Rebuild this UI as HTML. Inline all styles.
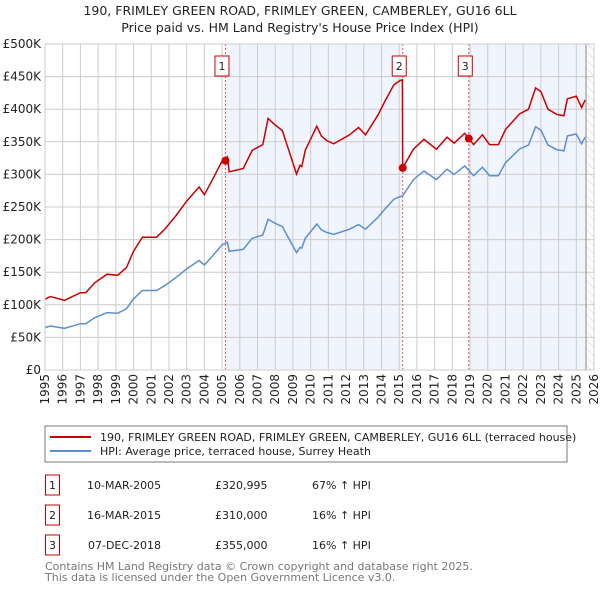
<!DOCTYPE html>
<html><head><meta charset="utf-8">
<style>
body{margin:0;background:#fff;font-family:"Liberation Sans","DejaVu Sans",sans-serif;}
svg text{font-family:"DejaVu Sans","Liberation Sans",sans-serif;}
</style></head>
<body>
<svg id="c" width="600" height="590" viewBox="0 0 600 590" xmlns="http://www.w3.org/2000/svg">
<text x="300" y="15" text-anchor="middle" font-size="12.5" fill="#222">190, FRIMLEY GREEN ROAD, FRIMLEY GREEN, CAMBERLEY, GU16 6LL</text>
<text x="300" y="32" text-anchor="middle" font-size="12.5" fill="#222">Price paid vs. HM Land Registry's House Price Index (HPI)</text>
<g id="plot"></g>
<rect x="45" y="426" width="522" height="36" fill="#fff" stroke="#777"/>
<line x1="50" y1="437" x2="91" y2="437" stroke="#cc0000" stroke-width="2"/>
<text x="100" y="441" font-size="11" fill="#222">190, FRIMLEY GREEN ROAD, FRIMLEY GREEN, CAMBERLEY, GU16 6LL (terraced house)</text>
<line x1="50" y1="451" x2="91" y2="451" stroke="#5b8fd0" stroke-width="2"/>
<text x="100" y="455" font-size="11" fill="#222">HPI: Average price, terraced house, Surrey Heath</text>
<g font-size="11" fill="#222">
<rect x="45.5" y="475" width="14" height="20" fill="none" stroke="#cc0000"/><text x="52.5" y="489" text-anchor="middle">1</text>
<text x="87" y="489">10-MAR-2005</text><text x="215" y="489">£320,995</text><text x="312" y="489">67% ↑ HPI</text>
<rect x="45.5" y="505" width="14" height="20" fill="none" stroke="#cc0000"/><text x="52.5" y="519" text-anchor="middle">2</text>
<text x="87" y="519">16-MAR-2015</text><text x="215" y="519">£310,000</text><text x="312" y="519">16% ↑ HPI</text>
<rect x="45.5" y="535" width="14" height="20" fill="none" stroke="#cc0000"/><text x="52.5" y="549" text-anchor="middle">3</text>
<text x="88" y="549">07-DEC-2018</text><text x="215" y="549">£355,000</text><text x="312" y="549">16% ↑ HPI</text>
</g>
<text x="45" y="570" font-size="11" fill="#777">Contains HM Land Registry data © Crown copyright and database right 2025.</text>
<text x="45" y="581" font-size="11" fill="#777">This data is licensed under the Open Government Licence v3.0.</text>
</svg>
<script>
const hpiYears=[1995.0,1995.3,1996.1,1997.0,1997.3,1997.8,1998.5,1999.1,1999.6,2000.0,2000.5,2001.3,2001.8,2002.4,2003.0,2003.7,2004.0,2004.5,2005.0,2005.3,2005.4,2006.2,2006.7,2007.3,2007.6,2008.0,2008.4,2008.8,2009.2,2009.4,2009.5,2009.7,2010.35,2010.6,2010.9,2011.3,2012.2,2012.7,2013.1,2013.8,2014.2,2014.7,2015.05,2015.2,2015.8,2016.4,2017.1,2017.7,2018.1,2018.7,2019.2,2019.7,2020.1,2020.6,2021.0,2021.8,2022.3,2022.7,2023.0,2023.4,2023.9,2024.3,2024.5,2025.0,2025.3,2025.5];
const hpiValues=[65,67.5,64,71,71,80,88,87,94,109,122,122,130,142,155,168,161,176,192,196,182,185,202,207,231,225,220,200,180,188,187,202,224,215,211,208,216,223,216,234,247,262,266,267,292,305,292,308,300,313,298,311,298,298,318,339,345,373,368,345,338,336,359,362,347,357];
const priceYears=[1995.0,1995.3,1996.1,1997.0,1997.3,1997.8,1998.5,1999.1,1999.6,2000.0,2000.5,2001.3,2001.8,2002.4,2003.0,2003.7,2004.0,2004.5,2005.0,2005.3,2005.4,2006.2,2006.7,2007.3,2007.6,2008.0,2008.4,2008.8,2009.2,2009.4,2009.5,2009.7,2010.35,2010.6,2010.9,2011.3,2012.2,2012.7,2013.1,2013.8,2014.2,2014.7,2015.05,2015.18,2015.2,2015.8,2016.4,2017.1,2017.7,2018.1,2018.7,2019.2,2019.7,2020.1,2020.6,2021.0,2021.8,2022.3,2022.7,2023.0,2023.4,2023.9,2024.3,2024.5,2025.0,2025.3,2025.5];
const priceValues=[108.5,112.7,106.9,118.6,118.6,133.6,147,145.3,157,182,203.7,203.7,217,237,259,280.6,268.9,294,320.6,327,304,309,337,345.7,385.8,375.8,367.4,334,300.6,314,312,337,374,359,352,347,360.7,372,360.7,390.8,412.5,437.5,444,445,310,338.7,353.8,338.7,357,348,363,345.7,360.8,345.7,345.7,368.9,393,400,432.7,427,400,392,390,416,420,402.5,414];
const saleYears=[2005.19,2015.2,2018.93];
const saleValues=[320.995,310,355];
const saleLabels=["1","2","3"];
const yTicks=[0,50,100,150,200,250,300,350,400,450,500];
const yTickLabels=["£0","£50K","£100K","£150K","£200K","£250K","£300K","£350K","£400K","£450K","£500K"];
const xTicks=[1995,1996,1997,1998,1999,2000,2001,2002,2003,2004,2005,2006,2007,2008,2009,2010,2011,2012,2013,2014,2015,2016,2017,2018,2019,2020,2021,2022,2023,2024,2025,2026];

const L=45,R=594,T=44,B=370,X0=1995,X1=2026,YMAX=500;
const sx=v=>L+(v-X0)/(X1-X0)*(R-L);
const sy=v=>B-v/YMAX*(B-T);
const NS="http://www.w3.org/2000/svg";
const g=document.getElementById('plot');
function mk(t,a,p){const e=document.createElementNS(NS,t);for(const k in a)e.setAttribute(k,a[k]);(p||g).appendChild(e);return e;}
const defs=mk('defs',{});
const pat=mk('pattern',{id:'hatch',width:6,height:6,patternUnits:'userSpaceOnUse',patternTransform:'rotate(-45)'},defs);
mk('line',{x1:0,y1:0,x2:0,y2:6,stroke:'#ccc','stroke-width':1},pat);
let e=mk('rect',{x:sx(saleYears[0]),y:T,width:sx(saleYears[1])-sx(saleYears[0]),height:B-T,fill:'#f0f4fc'});


const hatchStart=2025.55;
e=mk('rect',{x:sx(saleYears[2]),y:T,width:sx(hatchStart)-sx(saleYears[2]),height:B-T,fill:'#f0f4fc'});


e=mk('rect',{x:sx(hatchStart),y:T,width:R-sx(hatchStart),height:B-T,fill:'url(#hatch)'});


yTicks.forEach((v,i)=>{
  let l=mk('line',{x1:L,x2:R,y1:sy(v),y2:sy(v),stroke:'#cccccc','stroke-width':1});
  
  
  let t=mk('text',{x:L-4,y:sy(v)+4,'text-anchor':'end','font-size':12,fill:'#222'});
  t.textContent=yTickLabels[i];
  
  
});
xTicks.forEach(v=>{
  let l=mk('line',{x1:sx(v),x2:sx(v),y1:T,y2:B,stroke:'#cccccc','stroke-width':1});
  
  
  let t=mk('text',{x:0,y:0,'text-anchor':'end','font-size':12,fill:'#222',transform:`translate(${sx(v)+4},${B+4}) rotate(-90)`});
  t.textContent=v;
  
  
});
e=mk('line',{x1:sx(hatchStart),x2:sx(hatchStart),y1:T,y2:B,stroke:'#888','stroke-width':1});


saleYears.forEach((v,i)=>{
  let l=mk('line',{x1:sx(v),x2:sx(v),y1:T,y2:B,stroke:'#e06060','stroke-width':1,'stroke-dasharray':'2,2'});
  
  
});
function path(xs,ys){return xs.map((x,i)=>(i?'L':'M')+sx(x).toFixed(1)+','+sy(ys[i]).toFixed(1)).join('');}
e=mk('path',{d:path(hpiYears,hpiValues),fill:'none',stroke:'#5b8fd0','stroke-width':1.5});


e=mk('path',{d:path(priceYears,priceValues),fill:'none',stroke:'#cc0000','stroke-width':1.5});


saleYears.forEach((v,i)=>{
  let c=mk('circle',{cx:sx(v),cy:sy(saleValues[i]),r:4,fill:'#cc0000'});
  
  
  let r=mk('rect',{x:sx(v)-10.5,y:T+12,width:14,height:20,fill:'#fff',stroke:'#cc0000'});
  
  
  let t=mk('text',{x:sx(v)-3.5,y:T+26,'text-anchor':'middle','font-size':11,fill:'#222'});
  t.textContent=saleLabels[i];
  
  
});
e=mk('rect',{x:L,y:T,width:R-L,height:B-T,fill:'none',stroke:'#ccc'});


</script>
</body></html>
